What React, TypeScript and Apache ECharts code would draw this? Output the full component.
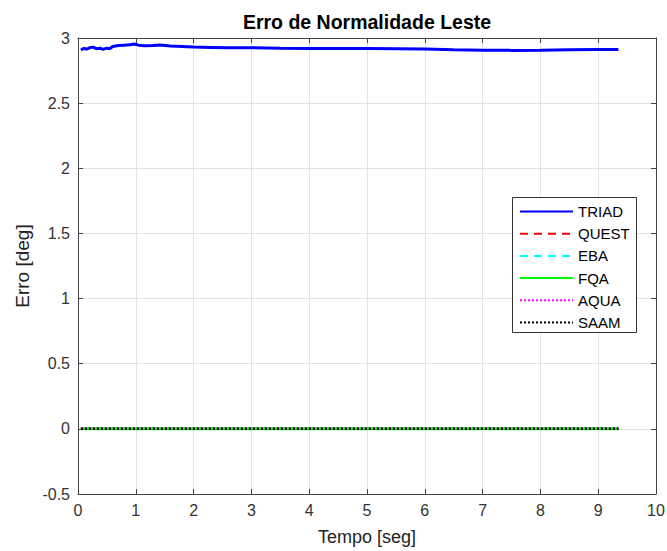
import React, { useEffect, useRef } from "react";
import * as echarts from "echarts";

const TITLE = "Erro de Normalidade Leste";
const X_NAME = "Tempo [seg]";
const Y_NAME = "Erro [deg]";

const SERIES_NAMES = ["TRIAD", "QUEST", "EBA", "FQA", "AQUA", "SAAM"];

const triadTime = [0.05, 0.1, 0.15, 0.2, 0.26, 0.32, 0.38, 0.43, 0.5, 0.55, 0.6, 0.7, 0.8, 0.9, 0.97, 1.05, 1.15, 1.3, 1.42, 1.6, 1.8, 2.0, 2.3, 2.6, 3.0, 3.5, 4.0, 4.5, 5.0, 5.5, 6.0, 6.5, 7.0, 7.5, 8.0, 8.5, 9.0, 9.35];
const triadErr = [2.908, 2.92, 2.915, 2.925, 2.93, 2.918, 2.922, 2.913, 2.922, 2.918, 2.935, 2.942, 2.945, 2.948, 2.954, 2.945, 2.94, 2.942, 2.946, 2.938, 2.935, 2.93, 2.928, 2.926, 2.925, 2.922, 2.92, 2.92, 2.92, 2.918, 2.915, 2.91, 2.906, 2.905, 2.906, 2.91, 2.912, 2.912];

const zeroTime = [0.05, 9.35];
const questErr = [0, 0];
const ebaErr = [0, 0];
const fqaErr = [0, 0];
const aquaErr = [0, 0];
const saamErr = [0, 0];

const X_TICKS = [0, 1, 2, 3, 4, 5, 6, 7, 8, 9, 10];
const Y_TICKS = [-0.5, 0, 0.5, 1, 1.5, 2, 2.5, 3];

const FONT = "'Liberation Sans', Arial, Helvetica, sans-serif";

function pairs(xs: number[], ys: number[]) {
  return xs.map((x, i) => [x, ys[i]]);
}

export default function App() {
  const ref = useRef<HTMLDivElement>(null);
  useEffect(() => {
    document.body.style.margin = "0";
    if (!ref.current) return;
    const chart = echarts.init(ref.current, undefined, { renderer: "svg" });
    const axisColor = "#444";
    const gridColor = "#e2e2e2";
    const lineDefs = [
      { data: pairs(triadTime, triadErr), color: "#0000ff", type: "solid", width: 3 },
      { data: pairs(zeroTime, questErr), color: "#ff0000", type: [8, 6], width: 2.5 },
      { data: pairs(zeroTime, ebaErr), color: "#00ffff", type: [8, 6], width: 2.5 },
      { data: pairs(zeroTime, fqaErr), color: "#00ff00", type: "solid", width: 3 },
      { data: pairs(zeroTime, aquaErr), color: "#ff00ff", type: [2, 2], width: 2.5 },
      { data: pairs(zeroTime, saamErr), color: "#000000", type: [2, 2], width: 2.5 },
    ];
    chart.setOption({
      animation: false,
      backgroundColor: "#fff",
      title: {
        text: TITLE,
        left: 362,
        textAlign: "center",
        top: 7,
        textStyle: { fontFamily: FONT, fontSize: 19.5, fontWeight: "bold", color: "#000" },
      },
      grid: { left: 78, right: 11, top: 38, bottom: 57, outerBoundsMode: "none", containLabel: false },
      graphic: [
        {
          type: "rect",
          shape: { x: 512.5, y: 197.5, width: 124, height: 135 },
          style: { fill: "#fff", stroke: "#333", lineWidth: 1 },
          z: 90,
        },
      ],
      legend: {
        orient: "vertical",
        left: 519,
        top: 204,
        z: 100,
        itemWidth: 53,
        itemHeight: 14,
        itemGap: 7.2,
        padding: 0,
        borderWidth: 0,
        itemStyle: { opacity: 0 },
        textStyle: { fontFamily: FONT, fontSize: 15, color: "#000" },
        data: SERIES_NAMES,
      },
      xAxis: [
        {
          type: "value",
          min: 0,
          max: 10,
          interval: 1,
          name: X_NAME,
          nameLocation: "middle",
          nameGap: 34,
          nameTextStyle: { fontFamily: FONT, fontSize: 18, color: "#222" },
          axisLine: { show: true, onZero: false, lineStyle: { color: axisColor, width: 1 } },
          axisTick: { show: true, inside: true, length: 5, lineStyle: { color: axisColor } },
          axisLabel: {
            fontFamily: FONT,
            fontSize: 16,
            color: "#333",
            margin: 8,
            formatter: (v: number) => (X_TICKS.includes(v) ? String(v) : ""),
          },
          splitLine: { show: true, lineStyle: { color: gridColor, width: 1 } },
        },
        {
          type: "value",
          position: "top",
          min: 0,
          max: 10,
          interval: 1,
          axisLine: { show: true, onZero: false, lineStyle: { color: axisColor, width: 1 } },
          axisTick: { show: true, inside: true, length: 5, lineStyle: { color: axisColor } },
          axisLabel: { show: false },
          splitLine: { show: false },
        },
      ],
      yAxis: [
        {
          type: "value",
          min: -0.5,
          max: 3,
          interval: 0.5,
          name: Y_NAME,
          nameLocation: "middle",
          nameGap: 35,
          nameRotate: 90,
          nameTextStyle: { fontFamily: FONT, fontSize: 19, color: "#222" },
          axisLine: { show: true, onZero: false, lineStyle: { color: axisColor, width: 1 } },
          axisTick: { show: true, inside: true, length: 5, lineStyle: { color: axisColor } },
          axisLabel: {
            fontFamily: FONT,
            fontSize: 16,
            color: "#333",
            margin: 8,
            formatter: (v: number) => (Y_TICKS.includes(v) ? String(v) : ""),
          },
          splitLine: { show: true, lineStyle: { color: gridColor, width: 1 } },
        },
        {
          type: "value",
          position: "right",
          min: -0.5,
          max: 3,
          interval: 0.5,
          axisLine: { show: true, onZero: false, lineStyle: { color: axisColor, width: 1 } },
          axisTick: { show: true, inside: true, length: 5, lineStyle: { color: axisColor } },
          axisLabel: { show: false },
          splitLine: { show: false },
        },
      ],
      series: lineDefs.map((d, i) => ({
        name: SERIES_NAMES[i],
        type: "line",
        xAxisIndex: 0,
        yAxisIndex: 0,
        data: d.data,
        symbol: "none",
        showSymbol: false,
        smooth: false,
        z: 2 + i,
        itemStyle: { color: d.color },
        lineStyle: { color: d.color, width: d.width, type: d.type as any, cap: "butt" },
        emphasis: { disabled: true },
      })),
    });
    return () => chart.dispose();
  }, []);
  return <div ref={ref} style={{ width: 667, height: 551 }} />;
}
